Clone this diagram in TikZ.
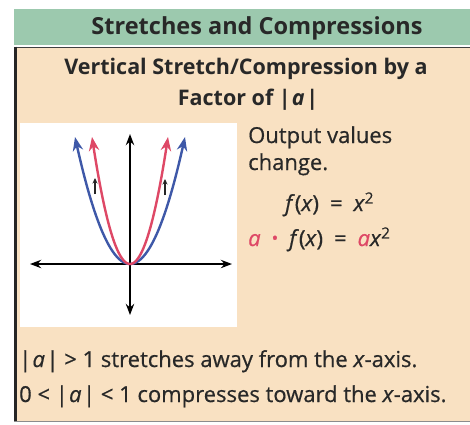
\documentclass[tikz,border=0pt]{standalone}
\usepackage{fontspec}
\setmainfont{Open Sans}
\newfontfamily\bodyfont{Open Sans}[FakeBold=0.6]
\usetikzlibrary{positioning}
\usetikzlibrary{arrows.meta}

\definecolor{headgreen}{RGB}{156,201,174}
\definecolor{boxpeach}{RGB}{249,225,194}
\definecolor{curveblue}{RGB}{62,88,168}
\definecolor{curvered}{RGB}{222,72,102}
\definecolor{textgray}{RGB}{40,40,40}

\newcommand{\absa}{|\kern1.2pt\textit{a}\kern1.5pt|}

\begin{document}
\begin{tikzpicture}[x=1pt, y=-1pt, >=Stealth,
  axis/.style={<->,line width=1.8pt,black},
  stretched/.style={<->,line width=2.4pt,curvered},
  original/.style={<->,line width=2.4pt,curveblue},
  hint/.style={->,line width=1.4pt,black!85,>={Stealth[length=5.5pt,width=5pt]}},
  bodytext/.style={anchor=base west,inner sep=0pt,text=textgray,font=\bodyfont\fontsize{22}{26}\selectfont},
  headtext/.style={anchor=base,inner sep=0pt,text=textgray,font=\fontsize{21.5}{26}\selectfont\bfseries}]

  \useasboundingbox (0,0) rectangle (470,424);

  % Draw header band and box
  \fill[white] (0,0) rectangle (470,424);
  \fill[headgreen] (14,9) rectangle (470,45);
  \fill[boxpeach] (14,47) rectangle (470,421);
  \draw[line width=0.8pt,black!75] (14,47) -- (470,47);
  \draw[line width=0.8pt,black!45] (14,421) -- (470,421);
  \draw[line width=3pt,black!85] (15.5,46.6) -- (15.5,421.4);

  % Titles
  \node[headtext, font=\fontsize{23.5}{26}\selectfont\bfseries] (title) at (257,34) {Stretches and Compressions};
  \node[headtext] (subtitle) at (246,74) {Vertical Stretch/Compression by a};
  \node[headtext] (factor) at (248,105) {Factor of \absa};

  % Graph area
  \fill[white] (20,123) rectangle (237,327);
  \coordinate (O) at (130,264);
  \draw[axis] (30,264) -- (232,264);
  \draw[axis] (130,315) -- (130,134);

  % Draw parabolas
  \draw[original] plot[domain=-55:55, samples=60] ({130+\x},{264-127*(\x/55)^2});
  \draw[stretched] plot[domain=-38:38, samples=60] ({130+\x},{264-127*(\x/38)^2});

  % Small arrows showing the stretch
  \coordinate (L1) at (95,194);
  \coordinate (L2) at (95,178);
  \coordinate (R1) at (165,195);
  \coordinate (R2) at (165,179);
  \draw[hint] (L1) -- (L2);
  \draw[hint] (R1) -- (R2);

  % Right column text
  \node[bodytext] (output) at (248,143) {Output values};
  \node[bodytext] (change) at (248,170) {change.};
  \node[bodytext] (fx) at (285,211) {\textit{f}(\textit{x})\enspace=\enspace\textit{x}\textsuperscript{2}};
  \node[bodytext] (afx) at (248,246) {\textcolor{curvered}{\textit{a}}\enspace\raisebox{0.15ex}{\scalebox{0.8}{\textcolor{curvered}{\textbullet}}}\enspace\textit{f}(\textit{x})\enspace=\enspace\textcolor{curvered}{\textit{a}}\textit{x}\textsuperscript{2}};

  % Bottom notes
  \node[bodytext] (note1) at (19,367) {\absa{} > 1 stretches away from the \textit{x}-axis.};
  \node[bodytext] (note2) at (19,402) {0 < \absa{} < 1 compresses toward the \textit{x}-axis.};

\end{tikzpicture}
\end{document}
